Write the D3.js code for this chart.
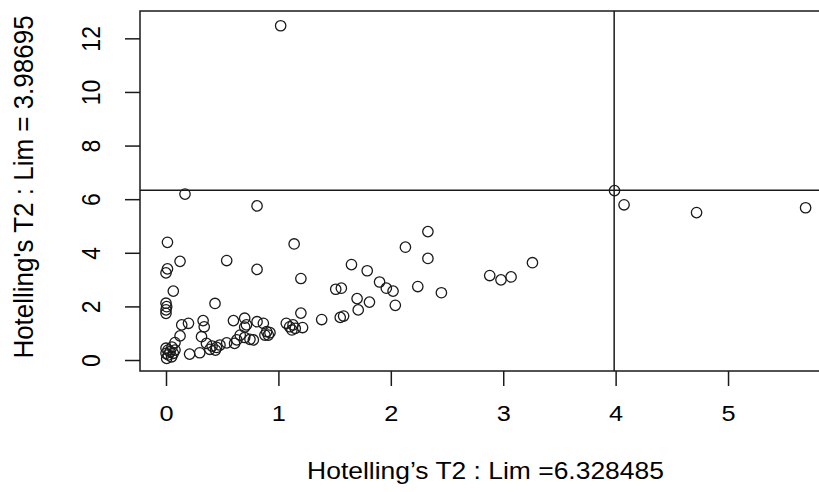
<!DOCTYPE html>
<html>
<head>
<meta charset="utf-8">
<script src="https://cdn.jsdelivr.net/npm/d3@7"></script>
<style>
  body { margin: 0; background: #fff; }
  text { font-family: Arial, "Liberation Sans", sans-serif; fill: #000; }
</style>
</head>
<body>
<svg width="819" height="492"></svg>
<script>
// Hotelling's T2 values (x) against the other T2 statistic (y)
var t2x = [0.169, 0.81, 0.013, 1.14, 0.125, 0.54, 0.013, 0.0, 0.81, 1.20,
  1.65, 1.79, 1.90, 0.065, 0.436, 0.0, 0.006, 0.0, 0.0, 1.51,
  1.56, 1.70, 1.81, 1.71, 1.55, 1.58, 1.385, 1.20, 1.215, 1.07,
  1.10, 1.13, 1.12, 1.15, 0.896, 0.91, 0.925, 0.88, 0.81, 0.866,
  0.70, 0.716, 0.70, 0.60, 0.54, 0.63, 0.66, 0.70, 0.747, 0.777,
  0.61, 0.33, 0.34, 0.316, 0.36, 0.41, 0.45, 0.48, 0.39, 0.44,
  0.30, 0.21, 0.14, 0.20, 0.125, 0.08, 0.0, 0.036, 0.02, 0.065,
  0.05, 0.0, 0.006, 0.08, 0.018, 0.053, 2.33, 2.13, 2.33, 3.26,
  2.88, 2.98, 3.07, 1.96, 2.02, 2.04, 2.24, 2.45, 3.99, 4.075,
  4.72, 5.69, 1.02];
var t2y = [6.19, 5.75, 4.39, 4.33, 3.68, 3.71, 3.40, 3.25, 3.38, 3.04,
  3.56, 3.33, 2.91, 2.57, 2.11, 2.12, 1.99, 1.87, 1.74, 2.64,
  2.68, 2.29, 2.16, 1.87, 1.59, 1.64, 1.51, 1.75, 1.21, 1.37,
  1.24, 1.31, 1.12, 1.18, 1.06, 0.93, 1.02, 0.93, 1.43, 1.37,
  1.56, 1.31, 1.23, 1.47, 0.64, 0.75, 0.93, 0.84, 0.77, 0.75,
  0.62, 1.47, 1.24, 0.87, 0.62, 0.52, 0.47, 0.56, 0.40, 0.37,
  0.27, 0.22, 1.31, 1.37, 0.90, 0.65, 0.44, 0.31, 0.19, 0.25,
  0.12, 0.25, 0.06, 0.37, 0.37, 0.48, 4.79, 4.21, 3.79, 3.63,
  3.15, 2.99, 3.10, 2.68, 2.57, 2.04, 2.74, 2.51, 6.32, 5.79,
  5.50, 5.68, 12.47];

var limX = 3.98695, limY = 6.328485;
var xTicks = [0, 1, 2, 3, 4, 5];
var yTicks = [0, 2, 4, 6, 8, 10, 12];
var xTitle = "Hotelling\u2019s T2 : Lim =6.328485";
var yTitle = "Hotelling's T2 : Lim = 3.98695";

var svg = d3.select("svg");
var plotL = 140, plotT = 11, plotR = 831, plotB = 371;

var xScale = d3.scaleLinear().domain([-0.2313, 5.916]).range([plotL, plotR]);
var yScale = d3.scaleLinear().domain([-0.41, 13.02]).range([plotB, plotT]);

var ink = "#1a1a1a";

// box
svg.append("rect")
  .attr("x", plotL).attr("y", plotT)
  .attr("width", plotR - plotL).attr("height", plotB - plotT)
  .attr("fill", "none").attr("stroke", ink).attr("stroke-width", 1.5);

// limit lines
svg.append("line")
  .attr("x1", plotL).attr("x2", plotR)
  .attr("y1", yScale(limY)).attr("y2", yScale(limY))
  .attr("stroke", ink).attr("stroke-width", 1.5);
svg.append("line")
  .attr("x1", xScale(limX)).attr("x2", xScale(limX))
  .attr("y1", plotT).attr("y2", plotB)
  .attr("stroke", ink).attr("stroke-width", 1.5);

// x axis
var xAxis = svg.append("g")
  .attr("transform", "translate(0," + plotB + ")")
  .call(d3.axisBottom(xScale).tickValues(xTicks).tickSize(15).tickFormat(d3.format("d")));
xAxis.select(".domain").remove();
xAxis.selectAll("line").attr("stroke", ink).attr("stroke-width", 1.5);
xAxis.selectAll("text")
  .attr("y", null).attr("dy", null)
  .attr("transform", "translate(0,50) scale(1.15,1)")
  .style("font-size", "22px");

// y axis, labels turned like R
var yAxis = svg.append("g")
  .attr("transform", "translate(" + plotL + ",0)")
  .call(d3.axisLeft(yScale).tickValues(yTicks).tickSize(15).tickFormat(d3.format("d")));
yAxis.select(".domain").remove();
yAxis.selectAll("line").attr("stroke", ink).attr("stroke-width", 1.5);
yAxis.selectAll("text")
  .attr("x", null).attr("dy", null)
  .attr("text-anchor", "middle")
  .attr("transform", "translate(-40,0) scale(1.12,1) rotate(-90)")
  .style("font-size", "23px");

// axis titles
svg.append("text")
  .attr("transform", "translate(" + (plotL + plotR) / 2 + ",479) scale(1.15,1)")
  .attr("text-anchor", "middle")
  .style("font-size", "23px")
  .text(xTitle);
svg.append("text")
  .attr("transform", "translate(33,187) scale(1.05,1) rotate(-90)")
  .attr("text-anchor", "middle")
  .style("font-size", "26px")
  .text(yTitle);

// points
svg.selectAll("circle.pt")
  .data(d3.range(t2x.length))
  .enter()
  .append("circle")
  .attr("class", "pt")
  .attr("cx", function(i) { return xScale(t2x[i]); })
  .attr("cy", function(i) { return yScale(t2y[i]); })
  .attr("r", 5.2)
  .attr("fill", "none")
  .attr("stroke", ink)
  .attr("stroke-width", 1.3);
</script>
</body>
</html>
